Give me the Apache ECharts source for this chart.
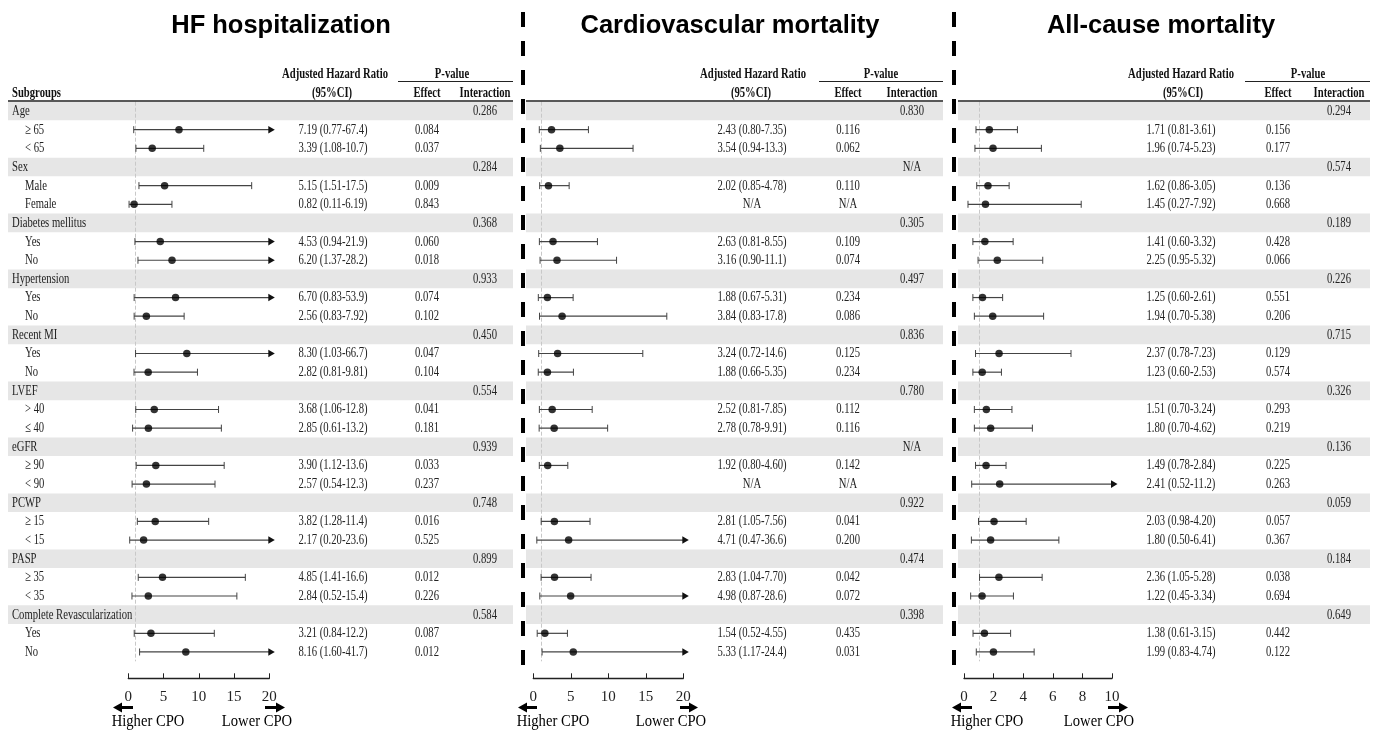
<!DOCTYPE html>
<html><head><meta charset="utf-8">
<script src="https://cdn.jsdelivr.net/npm/echarts@6/dist/echarts.min.js"></script>
<style>html,body{margin:0;padding:0;background:#fff}#c{width:1378px;height:731px}</style>
</head><body><div id="c"></div>
<script>
// ---------------- DATA ----------------
const subgroups = ['Age','≥ 65','< 65','Sex','Male','Female','Diabetes mellitus','Yes','No','Hypertension','Yes','No','Recent MI','Yes','No','LVEF','> 40','≤ 40','eGFR','≥ 90','< 90','PCWP','≥ 15','< 15','PASP','≥ 35','< 35','Complete Revascularization','Yes','No'];
const groupRows = [0,3,6,9,12,15,18,21,24,27];

const hfEst  = [null,7.19,3.39,null,5.15,0.82,null,4.53,6.20,null,6.70,2.56,null,8.30,2.82,null,3.68,2.85,null,3.90,2.57,null,3.82,2.17,null,4.85,2.84,null,3.21,8.16];
const hfLow  = [null,0.77,1.08,null,1.51,0.11,null,0.94,1.37,null,0.83,0.83,null,1.03,0.81,null,1.06,0.61,null,1.12,0.54,null,1.28,0.20,null,1.41,0.52,null,0.84,1.60];
const hfHigh = [null,67.4,10.7,null,17.5,6.19,null,21.9,28.2,null,53.9,7.92,null,66.7,9.81,null,12.8,13.2,null,13.6,12.3,null,11.4,23.6,null,16.6,15.4,null,12.2,41.7];
const hfPEffect = ['','0.084','0.037','','0.009','0.843','','0.060','0.018','','0.074','0.102','','0.047','0.104','','0.041','0.181','','0.033','0.237','','0.016','0.525','','0.012','0.226','','0.087','0.012'];
const hfPInteraction = ['0.286','','','0.284','','','0.368','','','0.933','','','0.450','','','0.554','','','0.939','','','0.748','','','0.899','','','0.584','',''];

const cvEst  = [null,2.43,3.54,null,2.02,null,null,2.63,3.16,null,1.88,3.84,null,3.24,1.88,null,2.52,2.78,null,1.92,null,null,2.81,4.71,null,2.83,4.98,null,1.54,5.33];
const cvLow  = [null,0.80,0.94,null,0.85,null,null,0.81,0.90,null,0.67,0.83,null,0.72,0.66,null,0.81,0.78,null,0.80,null,null,1.05,0.47,null,1.04,0.87,null,0.52,1.17];
const cvHigh = [null,7.35,13.3,null,4.78,null,null,8.55,11.1,null,5.31,17.8,null,14.6,5.35,null,7.85,9.91,null,4.60,null,null,7.56,36.6,null,7.70,28.6,null,4.55,24.4];
const cvPEffect = ['','0.116','0.062','','0.110','N/A','','0.109','0.074','','0.234','0.086','','0.125','0.234','','0.112','0.116','','0.142','N/A','','0.041','0.200','','0.042','0.072','','0.435','0.031'];
const cvPInteraction = ['0.830','','','N/A','','','0.305','','','0.497','','','0.836','','','0.780','','','N/A','','','0.922','','','0.474','','','0.398','',''];

const acEst  = [null,1.71,1.96,null,1.62,1.45,null,1.41,2.25,null,1.25,1.94,null,2.37,1.23,null,1.51,1.80,null,1.49,2.41,null,2.03,1.80,null,2.36,1.22,null,1.38,1.99];
const acLow  = [null,0.81,0.74,null,0.86,0.27,null,0.60,0.95,null,0.60,0.70,null,0.78,0.60,null,0.70,0.70,null,0.78,0.52,null,0.98,0.50,null,1.05,0.45,null,0.61,0.83];
const acHigh = [null,3.61,5.23,null,3.05,7.92,null,3.32,5.32,null,2.61,5.38,null,7.23,2.53,null,3.24,4.62,null,2.84,11.2,null,4.20,6.41,null,5.28,3.34,null,3.15,4.74];
const acPEffect = ['','0.156','0.177','','0.136','0.668','','0.428','0.066','','0.551','0.206','','0.129','0.574','','0.293','0.219','','0.225','0.263','','0.057','0.367','','0.038','0.694','','0.442','0.122'];
const acPInteraction = ['0.294','','','0.574','','','0.189','','','0.226','','','0.715','','','0.326','','','0.136','','','0.059','','','0.184','','','0.649','',''];

const titles = ['HF hospitalization','Cardiovascular mortality','All-cause mortality'];
const hfTicks = [0,5,10,15,20];
const cvTicks = [0,5,10,15,20];
const acTicks = [0,2,4,6,8,10];
const refValue = 1;

// ---------------- BUILD ----------------
const outcomes = [
  {est:hfEst, low:hfLow, high:hfHigh, pe:hfPEffect, pi:hfPInteraction, ticks:hfTicks},
  {est:cvEst, low:cvLow, high:cvHigh, pe:cvPEffect, pi:cvPInteraction, ticks:cvTicks},
  {est:acEst, low:acLow, high:acHigh, pe:acPEffect, pi:acPInteraction, ticks:acTicks}
];
const layout = [
  {gridLeft:128.3, gridWidth:141, bandL:8,   bandR:513,  hr:333,  eff:427,  int:485,  titleX:281,  ahr:335,  ci:332,  pv:452,  ulL:398,  higher:148, lower:257,  la:[113,133],  ra:[265,285]},
  {gridLeft:533.3, gridWidth:150, bandL:526, bandR:943,  hr:752,  eff:848,  int:912,  titleX:730,  ahr:753,  ci:751,  pv:881,  ulL:819,  higher:553, lower:671,  la:[518,537],  ra:[680,698]},
  {gridLeft:964,   gridWidth:148, bandL:958, bandR:1370, hr:1181, eff:1278, int:1339, titleX:1161, ahr:1181, ci:1183, pv:1308, ulL:1245, higher:987, lower:1099, la:[952,972],  ra:[1108,1128]}
];
const GRID_TOP = 101.7, GRID_H = 559.6;
const SERIF = '"Liberation Serif","Times New Roman",serif';
const SANS = '"Liberation Sans",Arial,sans-serif';
const SX = 0.71;
const fmt = v => v >= 10 ? v.toFixed(1) : v.toFixed(2);

const grids = [], xAxes = [], yAxes = [], series = [], graphics = [];

function txt(x, y, text, opt) {
  opt = opt || {};
  const align = opt.align || 'center';
  return {type:'text', x:x, y:y, scaleX: opt.sx || SX, silent:true, z: 50,
    style:{text:text, x:0, y:0, fill: opt.fill || '#222',
      font: (opt.weight||'normal') + ' ' + (opt.size||15) + 'px ' + (opt.family||SERIF),
      align: align, textAlign: align, verticalAlign:'middle', textVerticalAlign:'middle'}};
}

outcomes.forEach((o, p) => {
  const L = layout[p];
  const axMax = o.ticks[o.ticks.length-1];
  grids.push({left:L.gridLeft, top:GRID_TOP, width:L.gridWidth, height:GRID_H, containLabel:false, outerBoundsMode:'none'});
  xAxes.push({type:'value', gridIndex:p, min:o.ticks[0], max:axMax, interval:o.ticks[1]-o.ticks[0],
    position:'bottom', offset:17,
    axisLine:{show:true, onZero:false, lineStyle:{color:'#222', width:1.3}},
    axisTick:{show:true, inside:true, length:5, lineStyle:{color:'#222', width:1}},
    axisLabel:{fontFamily:SERIF, fontSize:15, color:'#222', margin:11, showMinLabel:true, showMaxLabel:true},
    splitLine:{show:false}});
  yAxes.push({type:'value', gridIndex:p, min:-0.5, max:29.5, inverse:true, show:false});

  // grey bands for group rows
  series.push({type:'custom', xAxisIndex:p, yAxisIndex:p, z:1, silent:true, clip:false,
    data: groupRows.map(r => [0, r]), encode:{x:0, y:1},
    renderItem: function(params, api){
      const c = api.coord([0, api.value(1)]);
      const h = api.size([0,1])[1];
      return {type:'rect', shape:{x:L.bandL, y:c[1]-h/2, width:L.bandR-L.bandL, height:h},
        style:{fill:'#e6e6e6'}};
    }});

  // table text
  series.push({type:'custom', xAxisIndex:p, yAxisIndex:p, z:5, silent:true, clip:false,
    data: subgroups.map((s, i) => [0, i]), encode:{x:0, y:1},
    renderItem: function(params, api){
      const i = api.value(1);
      const y = api.coord([0, i])[1];
      const kids = [];
      const isGroup = groupRows.indexOf(i) >= 0;
      if (p === 0) kids.push(txt(isGroup ? 12 : 25, y, subgroups[i], {align:'left'}));
      let hrText = '';
      if (o.est[i] != null) hrText = fmt(o.est[i]) + ' (' + fmt(o.low[i]) + '-' + fmt(o.high[i]) + ')';
      else if (o.pe[i] === 'N/A') hrText = 'N/A';
      if (hrText) kids.push(txt(L.hr, y, hrText));
      if (o.pe[i]) kids.push(txt(L.eff, y, o.pe[i]));
      if (o.pi[i]) kids.push(txt(L.int, y, o.pi[i]));
      return {type:'group', children:kids};
    }});

  // confidence intervals
  const ciData = [];
  o.est.forEach((e, i) => { if (e != null) ciData.push([o.low[i], o.high[i], i]); });
  series.push({type:'custom', xAxisIndex:p, yAxisIndex:p, z:6, silent:true, clip:false,
    data: ciData, encode:{x:[0,1], y:2},
    renderItem: function(params, api){
      const lo = api.value(0), hi = api.value(1), row = api.value(2);
      const over = hi > axMax;
      const a = api.coord([lo, row]);
      const b = api.coord([over ? axMax : hi, row]);
      const y = a[1];
      const st = {stroke:'#444', lineWidth:1.2};
      const kids = [
        {type:'line', shape:{x1:a[0], y1:y, x2:b[0], y2:y}, style:st},
        {type:'line', shape:{x1:a[0], y1:y-3.5, x2:a[0], y2:y+3.5}, style:{stroke:'#444', lineWidth:1}}
      ];
      if (over) {
        kids.push({type:'polygon', shape:{points:[[b[0]-1, y-3.8],[b[0]+5.5, y],[b[0]-1, y+3.8]]}, style:{fill:'#111'}});
      } else {
        kids.push({type:'line', shape:{x1:b[0], y1:y-3.5, x2:b[0], y2:y+3.5}, style:{stroke:'#444', lineWidth:1}});
      }
      return {type:'group', children:kids};
    }});

  // point estimates + reference line
  const pts = [];
  o.est.forEach((e, i) => { if (e != null) pts.push([e, i]); });
  series.push({type:'scatter', xAxisIndex:p, yAxisIndex:p, z:8, silent:true,
    data: pts, symbol:'circle', symbolSize:7.5, itemStyle:{color:'#000'},
    markLine:{silent:true, symbol:'none', animation:false, label:{show:false},
      lineStyle:{color:'#c8c8c8', type:'dashed', width:1},
      data:[{xAxis:refValue}]}});

  // ----- static header / decorations -----
  graphics.push(txt(L.titleX, 26, titles[p], {family:SANS, weight:'bold', size:25.5, sx:1.0, fill:'#000'}));
  graphics.push(txt(L.ahr, 74, 'Adjusted Hazard Ratio', {weight:'bold', fill:'#111'}));
  graphics.push(txt(L.ci, 93, '(95%CI)', {weight:'bold', fill:'#111'}));
  graphics.push(txt(L.pv, 74, 'P-value', {weight:'bold', fill:'#111'}));
  graphics.push(txt(L.eff, 93, 'Effect', {weight:'bold', fill:'#111'}));
  graphics.push(txt(L.int, 93, 'Interaction', {weight:'bold', fill:'#111'}));
  if (p === 0) graphics.push(txt(12, 93, 'Subgroups', {weight:'bold', align:'left', fill:'#111'}));
  graphics.push({type:'line', silent:true, z:50, shape:{x1:L.ulL, y1:81.5, x2:L.bandR, y2:81.5}, style:{stroke:'#222', lineWidth:1.2}});
  graphics.push({type:'line', silent:true, z:50, shape:{x1:L.bandL, y1:101, x2:L.bandR, y2:101}, style:{stroke:'#222', lineWidth:1.6}});
  // direction arrows
  const ay = 707.5;
  graphics.push({type:'polygon', silent:true, z:50, shape:{points:[[L.la[0],ay],[L.la[0]+9,ay-5],[L.la[0]+9,ay-1.6],[L.la[1],ay-1.6],[L.la[1],ay+1.6],[L.la[0]+9,ay+1.6],[L.la[0]+9,ay+5]]}, style:{fill:'#000'}});
  graphics.push({type:'polygon', silent:true, z:50, shape:{points:[[L.ra[1],ay],[L.ra[1]-9,ay-5],[L.ra[1]-9,ay-1.6],[L.ra[0],ay-1.6],[L.ra[0],ay+1.6],[L.ra[1]-9,ay+1.6],[L.ra[1]-9,ay+5]]}, style:{fill:'#000'}});
  graphics.push(txt(L.higher, 722, 'Higher CPO', {size:17, sx:0.86, fill:'#000'}));
  graphics.push(txt(L.lower, 722, 'Lower CPO', {size:17, sx:0.86, fill:'#000'}));
});

// dashed separators
[523, 954].forEach(x => {
  graphics.push({type:'line', silent:true, z:60, shape:{x1:x, y1:12, x2:x, y2:672},
    style:{stroke:'#000', lineWidth:4, lineDash:[15,14]}});
});

const chart = echarts.init(document.getElementById('c'), null, {renderer:'canvas'});
chart.setOption({
  animation:false,
  backgroundColor:'#fff',
  grid: grids, xAxis: xAxes, yAxis: yAxes, series: series,
  graphic: {elements: graphics}
});
</script>
</body></html>
